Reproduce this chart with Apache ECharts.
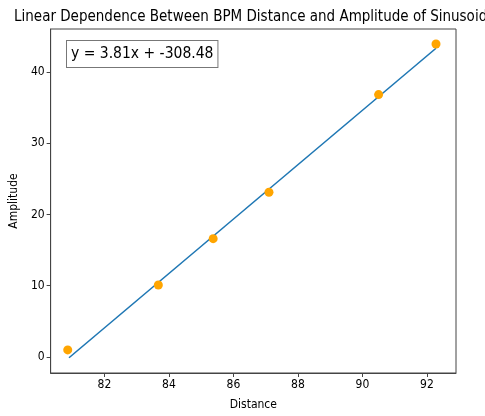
<!DOCTYPE html>
<html><head><meta charset="utf-8">
<script src="https://cdn.jsdelivr.net/npm/echarts@6/dist/echarts.min.js"></script>
<style>html,body{margin:0;padding:0;background:#fff}#c{width:485px;height:416px}</style>
</head><body><div id="c"></div>
<script>
var distances = [80.86, 83.67, 85.37, 87.10, 90.50, 92.28];
var amplitudes = [1.0, 10.1, 16.6, 23.1, 36.8, 43.9];
var fitLine = [[80.9, -0.1], [92.28, 43.3]];
var xTicks = [82, 84, 86, 88, 90, 92];
var yTicks = [0, 10, 20, 30, 40];
var equationText = 'y = 3.81x + -308.48';

var points = distances.map(function(d, i){ return [d, amplitudes[i]]; });
var F = '"DejaVu Sans Condensed", "DejaVu Sans"';
var chart = echarts.init(document.getElementById('c'));
chart.setOption({
  animation: false,
  title: {
    text: 'Linear Dependence Between BPM Distance and Amplitude of Sinusoidal',
    left: 9, top: 5,
    textStyle: {fontFamily: F, fontSize: 15, fontWeight: 'normal', color: '#000'}
  },
  grid: {left: 50, right: 29, top: 29, bottom: 42, show: true, borderColor: '#444', borderWidth: 1, backgroundColor: 'transparent'},
  xAxis: {
    type: 'value', min: 80.33, max: 92.9,
    name: 'Distance', nameLocation: 'middle', nameGap: 26,
    nameTextStyle: {fontFamily: F, fontSize: 12, color: '#000'},
    axisLine: {show: true, onZero: false, lineStyle: {color: '#444'}},
    axisTick: {show: true, length: 4, customValues: xTicks, lineStyle: {color: '#444'}},
    axisLabel: {customValues: xTicks, fontFamily: F, fontSize: 12, color: '#000', margin: 6},
    splitLine: {show: false}
  },
  yAxis: {
    type: 'value', min: -2.24, max: 46,
    name: 'Amplitude', nameLocation: 'middle', nameGap: 30, nameRotate: 90,
    nameTextStyle: {fontFamily: F, fontSize: 12, color: '#000'},
    axisLine: {show: true, onZero: false, lineStyle: {color: '#444'}},
    axisTick: {show: true, length: 4, customValues: yTicks, lineStyle: {color: '#444'}},
    axisLabel: {customValues: yTicks, fontFamily: F, fontSize: 12, color: '#000', margin: 6},
    splitLine: {show: false}
  },
  series: [
    {type: 'line', data: fitLine, showSymbol: false, symbol: 'none', lineStyle: {color: '#1f77b4', width: 1.6}, z: 2},
    {type: 'scatter', data: points, symbolSize: 9, itemStyle: {color: '#ffa500', opacity: 1}, z: 3}
  ],
  graphic: [{
    type: 'text', left: 66, top: 40, z: 10,
    style: {
      text: equationText, fontFamily: F, fontSize: 15.5, fill: '#000',
      backgroundColor: '#fff', borderColor: '#777', borderWidth: 1,
      padding: [5, 4, 5, 4]
    }
  }]
});
</script></body></html>
